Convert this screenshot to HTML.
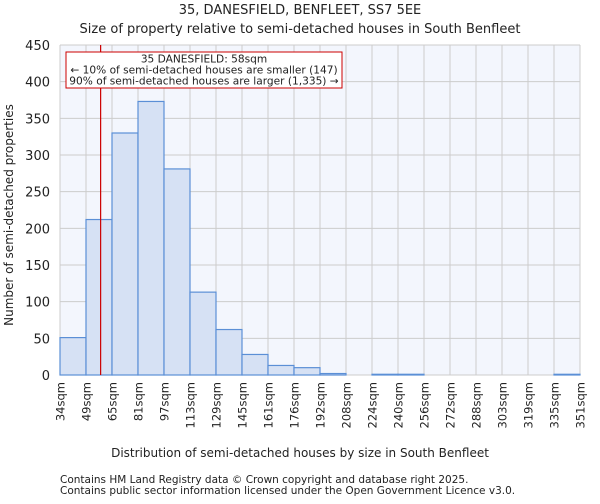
<!DOCTYPE html>
<html><head><meta charset="utf-8"><style>
body{margin:0;background:#fff;font-family:"DejaVu Sans","Liberation Sans",sans-serif;}
svg text{font-family:"DejaVu Sans","Liberation Sans",sans-serif;fill:#222;}
</style></head><body>
<svg id="chart" width="600" height="500" xmlns="http://www.w3.org/2000/svg">
<text x="300" y="14" text-anchor="middle" font-size="13">35, DANESFIELD, BENFLEET, SS7 5EE</text>
<text x="300" y="33" text-anchor="middle" font-size="13">Size of property relative to semi-detached houses in South Benfleet</text>
<rect x="60" y="45" width="520" height="330" fill="#f3f6fd"/>
<g id="grid"></g><g id="bars"></g><g id="axes"></g>
<text x="300" y="457" text-anchor="middle" font-size="12">Distribution of semi-detached houses by size in South Benfleet</text>
<text transform="translate(13,215) rotate(-90)" text-anchor="middle" font-size="12">Number of semi-detached properties</text>
<text x="60" y="483" font-size="10.5" fill="#444">Contains HM Land Registry data © Crown copyright and database right 2025.</text>
<text x="60" y="494" font-size="10.5" fill="#444">Contains public sector information licensed under the Open Government Licence v3.0.</text>
</svg>
<script>
const binLabels=["34sqm","49sqm","65sqm","81sqm","97sqm","113sqm","129sqm","145sqm","161sqm","176sqm","192sqm","208sqm","224sqm","240sqm","256sqm","272sqm","288sqm","303sqm","319sqm","335sqm","351sqm"];
const counts=[51,212,330,373,281,113,62,28,13,10,2,0,1,1,0,0,0,0,0,1];
const yTicks=[0,50,100,150,200,250,300,350,400,450];
const markerValue=58;
const NS="http://www.w3.org/2000/svg";
const L=60,R=580,T=45,B=375,YMAX=450;
const bw=(R-L)/counts.length;
const y=v=>B-(v/YMAX)*(B-T);
const x=i=>L+i*bw;
function mk(t,a,p){const e=document.createElementNS(NS,t);for(const k in a)e.setAttribute(k,a[k]);p.appendChild(e);return e;}
const grid=document.getElementById('grid'),bars=document.getElementById('bars'),axes=document.getElementById('axes');
yTicks.forEach(v=>{
 const g=mk('line',{x1:L,x2:R,y1:y(v),y2:y(v),stroke:'#cccccc','stroke-width':1},grid);
 
 
 const t=mk('text',{x:L-10,y:y(v)+5,'text-anchor':'end','font-size':13},axes);
 t.textContent=v;
 
 
});
binLabels.forEach((lab,i)=>{
 const g=mk('line',{x1:x(i),x2:x(i),y1:T,y2:B,stroke:'#cccccc','stroke-width':1},grid);
 
 
 const t=mk('text',{transform:`translate(${x(i)+4.5},${B+7}) rotate(-90)`,'text-anchor':'end','font-size':11.5},axes);
 t.textContent=lab;
 
 
});
counts.forEach((c,i)=>{
 const r=mk('rect',{x:x(i),y:y(c),width:bw,height:B-y(c),fill:'#d6e1f4',stroke:'#5b8fd6','stroke-width':1.2},bars);
 
 
});
let bi=0;const edges=binLabels.map(s=>parseFloat(s));
for(let i=0;i<edges.length-1;i++){if(markerValue>=edges[i]&&markerValue<edges[i+1])bi=i;}
const mx=x(bi)+(markerValue-edges[bi])/(edges[bi+1]-edges[bi])*bw;
const ml=mk('line',{x1:mx,x2:mx,y1:T,y2:B,stroke:'#cc0000','stroke-width':1.2},axes);


const box=mk('rect',{x:66,y:52,width:276,height:36,fill:'#fff',stroke:'#cc0000','stroke-width':1},axes);


["35 DANESFIELD: 58sqm","← 10% of semi-detached houses are smaller (147)","90% of semi-detached houses are larger (1,335) →"].forEach((s,i)=>{
 const t=mk('text',{x:204,y:62.5+i*11,'text-anchor':'middle','font-size':10.6},axes);
 t.textContent=s;
 
 
});
</script>
</body></html>
